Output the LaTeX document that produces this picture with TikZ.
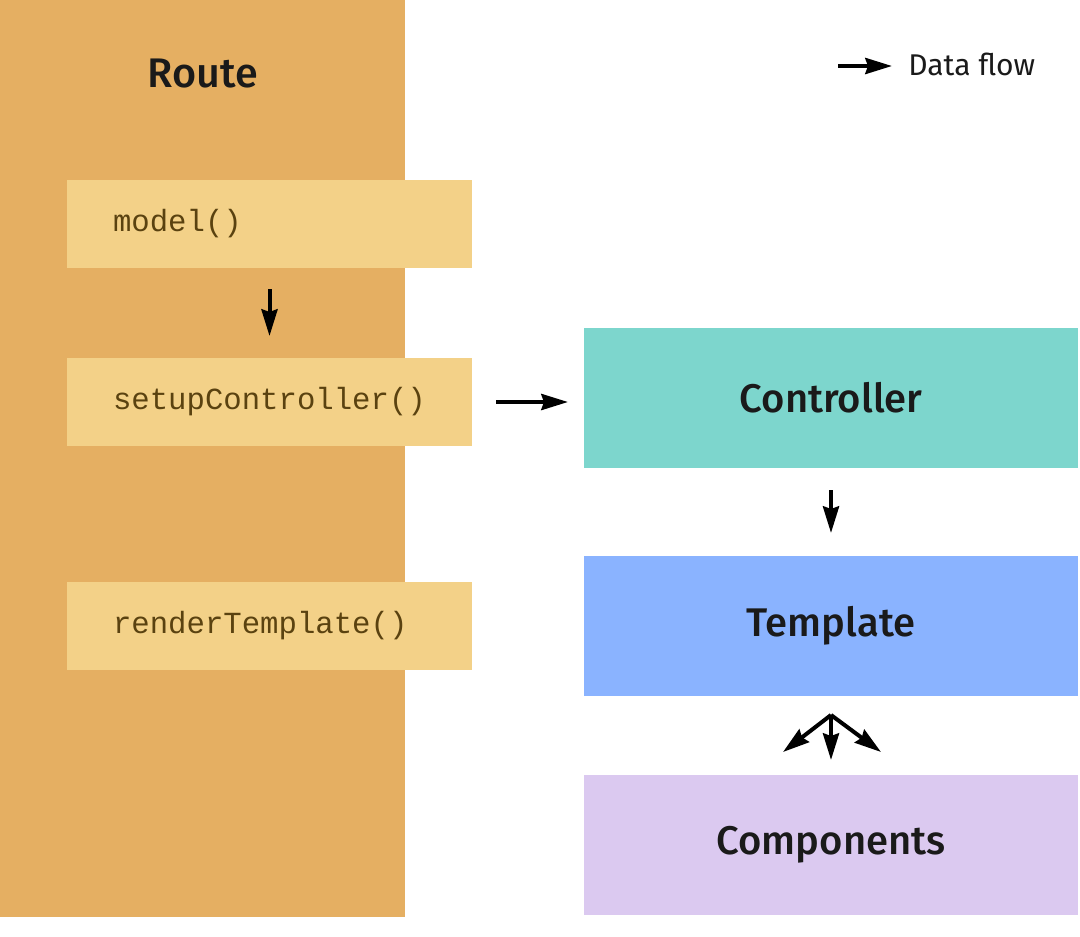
\documentclass[tikz,border=0pt]{standalone}
\usepackage{fontspec}
\setmainfont{Fira Sans}
\newfontfamily\medfont{Fira Sans Medium}
\setmonofont{Liberation Mono}
\usetikzlibrary{arrows.meta,calc}
\definecolor{routecol}{HTML}{E5AF62}
\definecolor{hookcol}{HTML}{F3D188}
\definecolor{hooktext}{HTML}{5A4210}
\definecolor{ctrlcol}{HTML}{7DD6CD}
\definecolor{tmplcol}{HTML}{8AB3FF}
\definecolor{compcol}{HTML}{DBC9F0}
\definecolor{ink}{HTML}{1A1A1A}
\begin{document}
\begin{tikzpicture}[x=0.75pt,y=-0.75pt,
  panel/.style={draw=none,inner sep=0pt,outer sep=0pt},
  hookbox/.style={panel,fill=hookcol,minimum width=405*0.75pt,minimum height=88*0.75pt,
    text width=313*0.75pt,align=left,text=hooktext,font=\ttfamily\fontsize{23}{26}\selectfont},
  bigbox/.style={panel,minimum width=494*0.75pt,minimum height=140*0.75pt,text=ink,
    font=\medfont\fontsize{30}{34}\selectfont},
  flow/.style={line width=3pt,-{Stealth[length=20pt,width=12pt,inset=2pt]}}]
\useasboundingbox (0,0) rectangle (1080,936);
% route column
\node[panel,fill=routecol,minimum width=405*0.75pt,minimum height=917*0.75pt] (route) at (202.5,458.5) {};
\node[text=ink,font=\medfont\fontsize{31}{36}\selectfont] (routelbl) at (203,74) {Route};
% hooks
\node[hookbox] (model) at (269.5,224) {model()};
\node[hookbox] (setup) at (269.5,402) {setupController()};
\node[hookbox] (render) at (269.5,626) {renderTemplate()};
% right boxes
\node[bigbox,fill=ctrlcol] (ctrl) at (831,398) {Controller};
\node[bigbox,fill=tmplcol] (tmpl) at (831,626) {Template};
\node[bigbox,fill=compcol] (comp) at (831,845) {\raisebox{-3pt}{Components}};
% arrows
\draw[flow] ([yshift=-21*0.75pt]model.south) -- ([yshift=22*0.75pt]setup.north);
\draw[flow] ([xshift=24*0.75pt]setup.east) -- ([xshift=-16*0.75pt]setup.east -| ctrl.west);
\draw[flow] ([yshift=-22*0.75pt]ctrl.south) -- ([yshift=23*0.75pt]tmpl.north);
\coordinate (fork) at ([yshift=-19*0.75pt]tmpl.south);
\coordinate (c1) at ($(comp.north)+(-48,-23)$);
\coordinate (c2) at ($(comp.north)+(0,-15)$);
\coordinate (c3) at ($(comp.north)+(50,-23)$);
\draw[flow] (fork) -- (c1);
\draw[flow] (fork) -- (c2);
\draw[flow] (fork) -- (c3);
% legend
\coordinate (lgA) at (838,66);
\coordinate (lgB) at (892,66);
\draw[flow] (lgA) -- (lgB);
\node[anchor=west,inner sep=0pt,text=ink,font=\fontsize{22.5}{26}\selectfont] (lgtext) at (908,64) {Data flow};
\end{tikzpicture}
\end{document}
